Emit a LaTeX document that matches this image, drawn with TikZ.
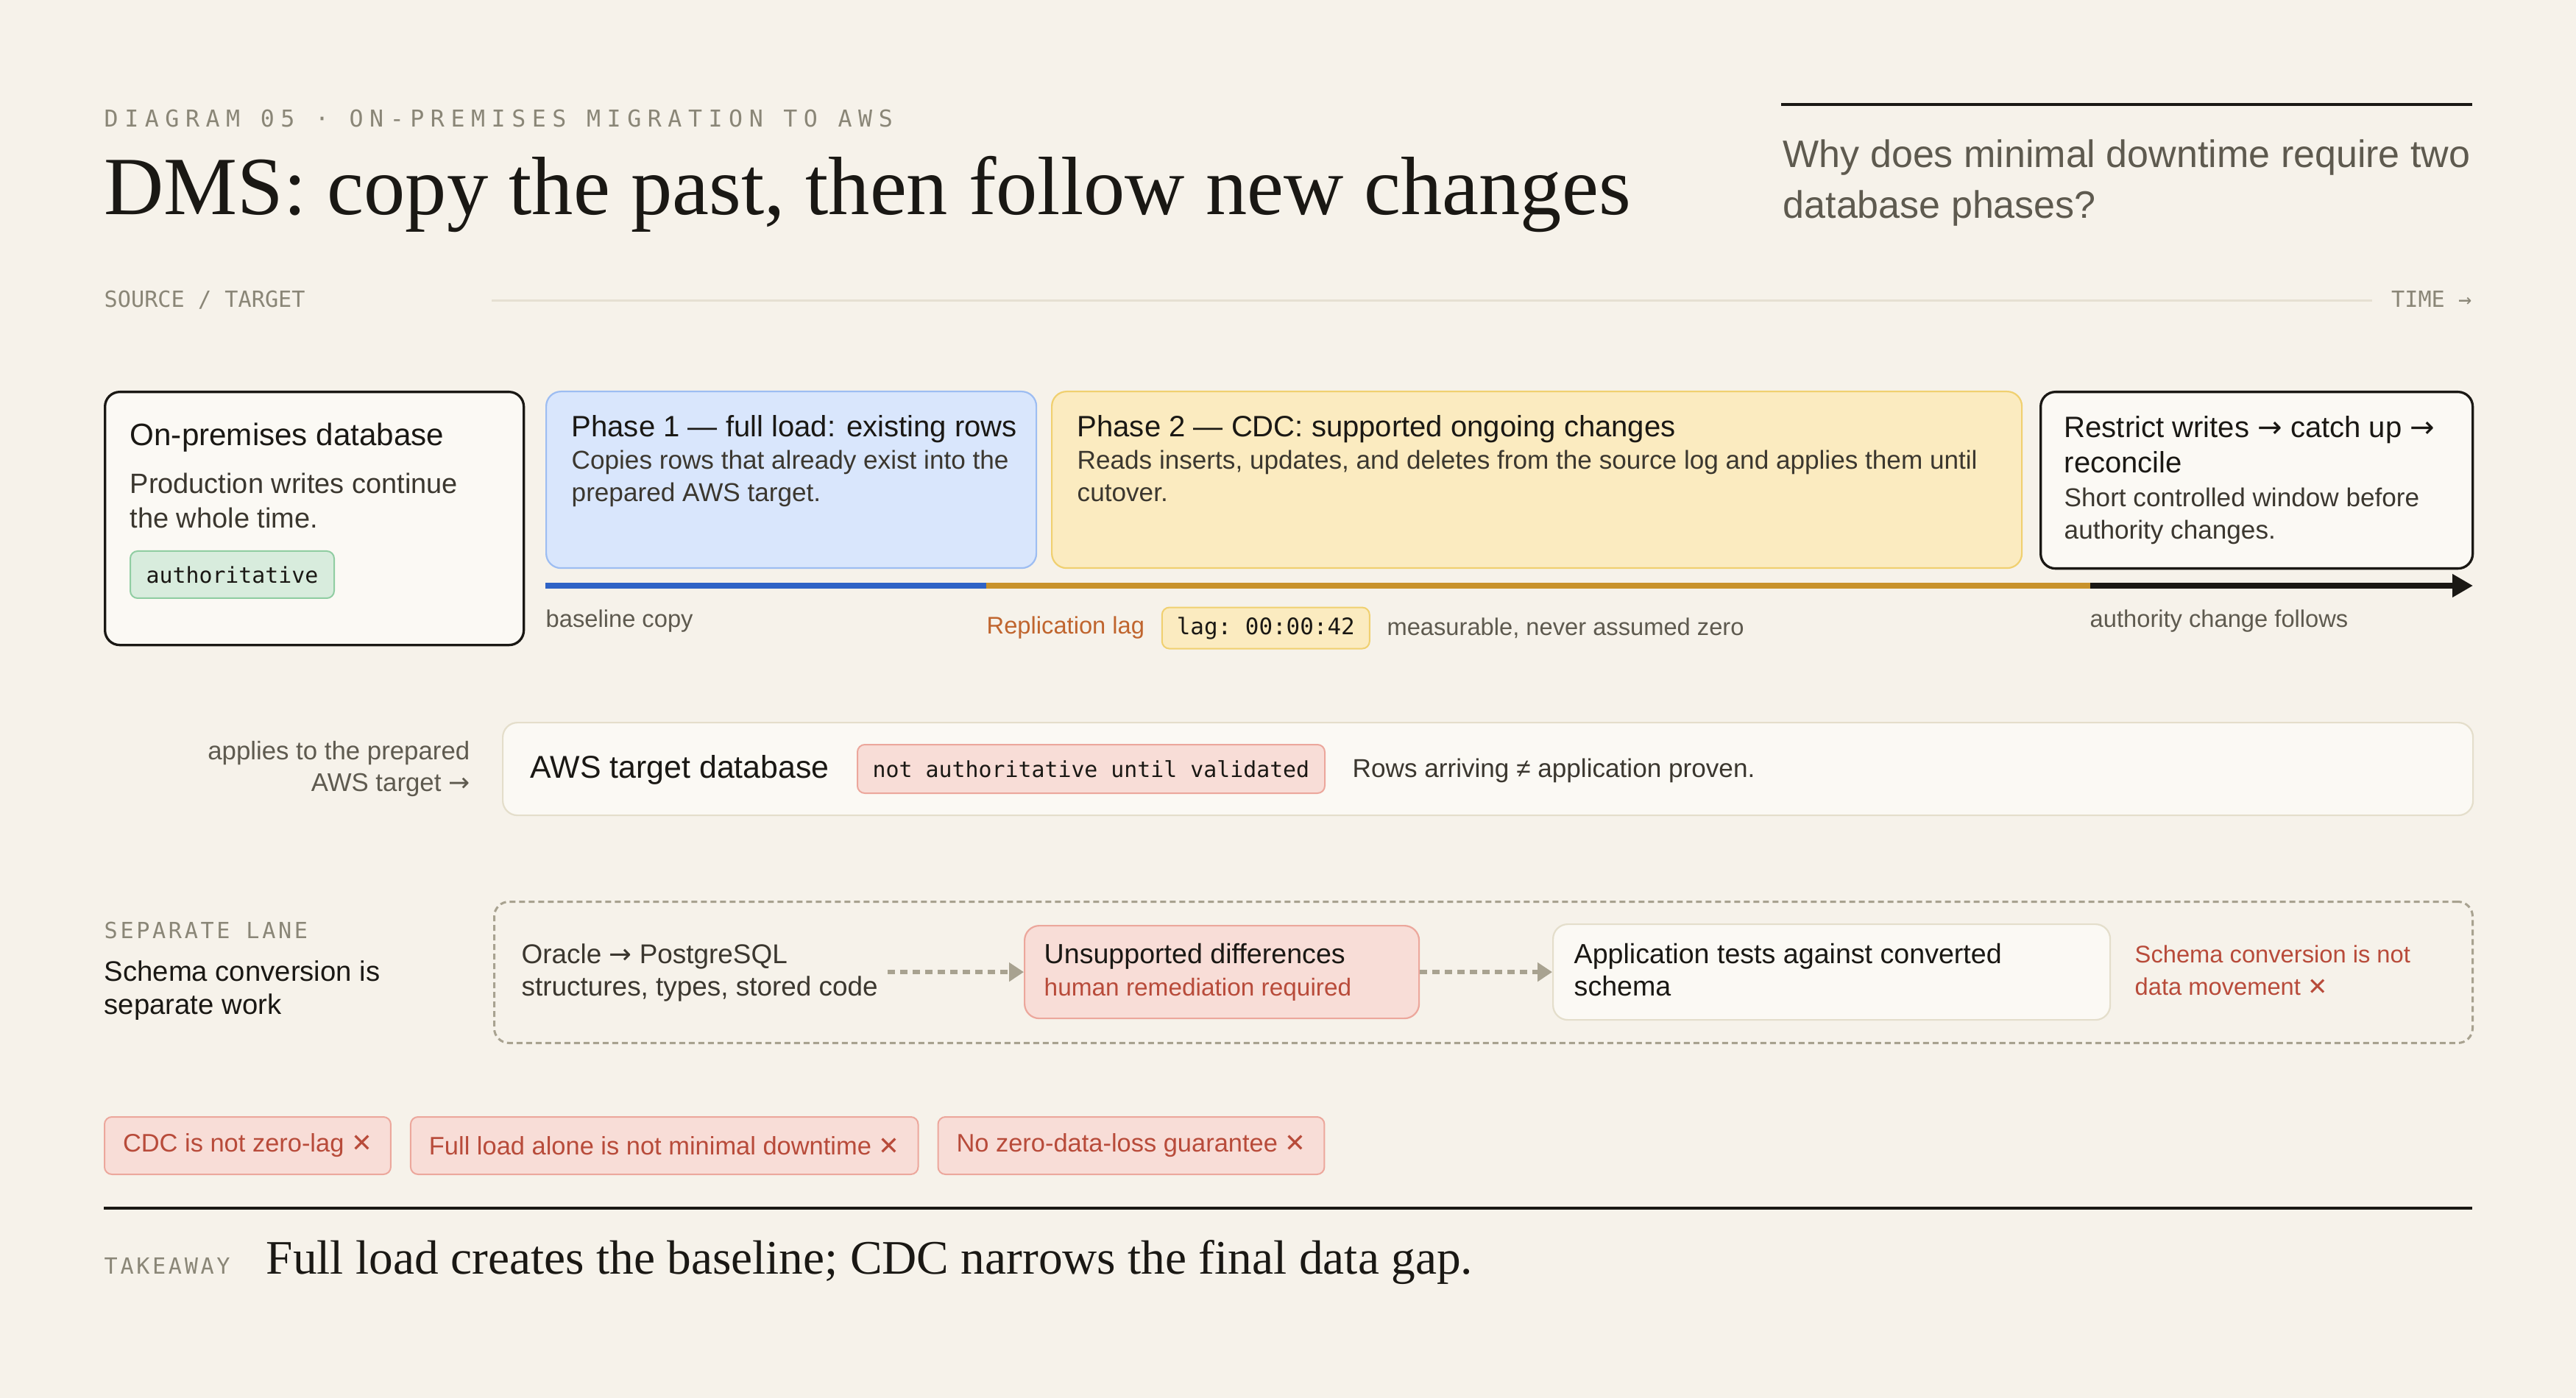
\documentclass[tikz,border=0pt]{standalone}
\usepackage{fontspec}
\setmainfont{Liberation Serif}
\setsansfont{Liberation Sans}
\setmonofont{DejaVu Sans Mono}
\newfontfamily\spacedmono[LetterSpace=12]{DejaVu Sans Mono}
\newfontfamily\widemono[LetterSpace=27]{DejaVu Sans Mono}
\newfontfamily\symfont{DejaVu Sans}
\newcommand{\toarrow}{{\symfont →}}
\newcommand{\nomark}{{\symfont ✕}}
\usetikzlibrary{arrows.meta, positioning, calc}
\definecolor{paperbg}{HTML}{F6F2EA}
\definecolor{paper}{HTML}{FBF9F4}
\definecolor{ink}{HTML}{1A1814}
\definecolor{body}{HTML}{3B372F}
\definecolor{muted}{HTML}{5E5A4F}
\definecolor{monogray}{HTML}{8A8677}
\definecolor{rulelight}{HTML}{E6E0D2}
\definecolor{beige}{HTML}{E4DECB}
\definecolor{bluefill}{HTML}{D9E6FC}
\definecolor{blueline}{HTML}{9DBDF2}
\definecolor{bluebar}{HTML}{2F63C6}
\definecolor{yellowfill}{HTML}{FBEBC0}
\definecolor{yellowline}{HTML}{F0D070}
\definecolor{orangebar}{HTML}{C8922C}
\definecolor{lagorange}{HTML}{C0652E}
\definecolor{greenfill}{HTML}{D8ECDD}
\definecolor{greenline}{HTML}{90CDA2}
\definecolor{redfill}{HTML}{F8DDD7}
\definecolor{redline}{HTML}{ECA79C}
\definecolor{redtext}{HTML}{B84B3A}
\definecolor{lanegray}{HTML}{A8A290}

\begin{document}
\begin{tikzpicture}[
    panel/.style={rectangle, rounded corners=0.2cm, inner sep=0pt, anchor=north west},
    darkpanel/.style={panel, draw=ink, line width=0.033cm, fill=paper},
    softpanel/.style={panel, draw=beige, line width=0.022cm, fill=paper},
    boxtitle/.style={anchor=base west, inner sep=0pt, align=left, text=ink,
                     font=\sffamily\fontsize{12}{13.7}\selectfont},
    phasetitle/.style={boxtitle, font=\sffamily\fontsize{11.4}{13.7}\selectfont},
    boxtext/.style={anchor=base west, inner sep=0pt, align=left, text=body,
                    font=\sffamily\fontsize{10}{12.6}\selectfont},
    lanetext/.style={boxtext, font=\sffamily\fontsize{10.7}{12.4}\selectfont},
    note/.style={anchor=base west, inner sep=0pt, align=left, text=muted,
                 font=\sffamily\fontsize{9.3}{12}\selectfont},
    monolabel/.style={anchor=base west, inner sep=0pt, text=monogray,
                      font=\ttfamily\fontsize{8.6}{10}\selectfont},
    tag/.style={rectangle, rounded corners=0.1cm, line width=0.02cm, inner sep=0pt,
                anchor=north west, text=ink, font=\ttfamily\fontsize{8.5}{10}\selectfont},
    pill/.style={rectangle, rounded corners=0.1cm, draw=redline, fill=redfill, line width=0.02cm,
                 minimum height=0.78cm, inner xsep=0.25cm, text=redtext,
                 font=\sffamily\fontsize{9.8}{12}\selectfont},
    bar/.style={line width=0.075cm},
    flow/.style={draw=lanegray, line width=0.055cm, dash pattern=on 0.1cm off 0.07cm,
                 -{Triangle[length=0.2cm, width=0.25cm]}},
]

% Page
\fill[paperbg] (0,0) rectangle (35,-19);
\useasboundingbox (0,0) rectangle (35,-19);

% Header
\node[monolabel, font=\widemono\fontsize{9}{10}\selectfont] (eyebrow) at (1.41,-1.73)
    {DIAGRAM 05 · ON-PREMISES MIGRATION TO AWS};
\node[anchor=base west, inner sep=0pt, text=ink, font=\rmfamily\fontsize{32}{36}\selectfont] (headline)
    at (1.41,-2.92) {DMS: copy the past, then follow new changes};
\draw[ink, line width=0.04cm] (24.20,-1.42) -- (33.59,-1.42);
\node[anchor=base west, inner sep=0pt, align=left, text=muted, font=\sffamily\fontsize{14.8}{19.9}\selectfont]
    (question) at (24.22,-2.97) {Why does minimal downtime require two\\database phases?};

% Axis
\node[monolabel] (sourcelbl) at (1.41,-4.18) {SOURCE / TARGET};
\node[monolabel, anchor=base east] (timelbl) at (33.59,-4.18) {TIME →};
\draw[rulelight, line width=0.03cm] (6.68,-4.09) -- (32.23,-4.09);

% Source database
\node[darkpanel, minimum width=5.69cm, minimum height=3.44cm] (onprem) at (1.41,-5.31) {};
\node[boxtitle] (onpremtitle) at ($(onprem.north west)+(0.35,-0.75)$) {On-premises database};
\node[boxtext, font=\sffamily\fontsize{10.8}{13.3}\selectfont] (onpremtext)
    at ($(onprem.north west)+(0.35,-1.86)$) {Production writes continue\\the whole time.};
\node[tag, fill=greenfill, draw=greenline, minimum width=2.77cm, minimum height=0.64cm] (authtag)
    at ($(onprem.north west)+(0.35,-2.17)$) {authoritative};

% Phases
\node[panel, fill=bluefill, draw=blueline, line width=0.022cm, minimum width=6.66cm, minimum height=2.40cm]
    (phase1) at (7.41,-5.31) {};
\node[phasetitle] (phase1title) at ($(phase1.north west)+(0.35,-0.63)$) {Phase 1 — full load: existing rows};
\node[boxtext] (phase1text) at ($(phase1.north west)+(0.35,-1.51)$)
    {Copies rows that already exist into the\\prepared AWS target.};

\node[panel, fill=yellowfill, draw=yellowline, line width=0.022cm, minimum width=13.18cm, minimum height=2.40cm]
    (phase2) at (14.28,-5.31) {};
\node[phasetitle] (phase2title) at ($(phase2.north west)+(0.35,-0.63)$) {Phase 2 — CDC: supported ongoing changes};
\node[boxtext] (phase2text) at ($(phase2.north west)+(0.35,-1.51)$)
    {Reads inserts, updates, and deletes from the source log and applies them until\\cutover.};

\node[darkpanel, minimum width=5.87cm, minimum height=2.40cm] (cutover) at (27.71,-5.31) {};
\node[phasetitle] (cutovertitle) at ($(cutover.north west)+(0.33,-1.12)$)
    {Restrict writes \toarrow{} catch up \toarrow\\reconcile};
\node[boxtext] (cutovertext) at ($(cutover.north west)+(0.33,-2.02)$)
    {Short controlled window before\\authority changes.};

% Timeline
\coordinate (tl0) at (7.41,-7.96);
\coordinate (tl1) at (13.40,-7.96);
\coordinate (tl2) at (28.40,-7.96);
\coordinate (tl3) at (33.60,-7.96);
\draw[bar, bluebar] (tl0) -- (tl1);
\draw[bar, orangebar] (tl1) -- (tl2);
\draw[bar, ink, -{Triangle[length=0.28cm, width=0.30cm]}] (tl2) -- (tl3);

\node[note] (baselinelbl) at (7.41,-8.52) {baseline copy};
\node[note, text=lagorange] (laglbl) at (13.40,-8.62) {Replication lag};
\node[tag, fill=yellowfill, draw=yellowline, minimum width=2.82cm, minimum height=0.56cm,
      font=\ttfamily\fontsize{8.8}{10}\selectfont, right=0.22cm of laglbl] (lagtag) {lag: 00:00:42};
\node[note, right=0.22cm of lagtag] (measurelbl) {measurable, never assumed zero};
\node[note] (authlbl) at (28.39,-8.52) {authority change follows};

% Target database
\node[note, font=\sffamily\fontsize{9.9}{12}\selectfont, align=right, anchor=base east] (applieslbl)
    at (6.39,-10.75) {applies to the prepared\\AWS target \toarrow};
\node[softpanel, minimum width=26.77cm, minimum height=1.26cm] (awsbox) at (6.82,-9.81) {};
\node[boxtitle, font=\sffamily\fontsize{12.2}{14}\selectfont] (awstitle) at (7.20,-10.57) {AWS target database};
\node[tag, fill=redfill, draw=redline, minimum width=6.35cm, minimum height=0.66cm] (notauthtag)
    at (11.64,-10.11) {not authoritative until validated};
\node[boxtext] (rowslbl) at (18.37,-10.56) {Rows arriving ≠ application proven.};

% Separate lane
\node[monolabel, font=\spacedmono\fontsize{8.6}{10}\selectfont] (lanelbl) at (1.41,-12.75) {SEPARATE LANE};
\node[boxtitle, font=\sffamily\fontsize{10.9}{12.8}\selectfont] (lanetitle) at (1.41,-13.78)
    {Schema conversion is\\separate work};
\node[panel, draw=lanegray, line width=0.03cm, dash pattern=on 0.08cm off 0.05cm,
      minimum width=26.88cm, minimum height=1.92cm] (lane) at (6.70,-12.24) {};
\node[lanetext, font=\sffamily\fontsize{10.5}{12.4}\selectfont] (oracle) at (7.08,-13.53)
    {Oracle \toarrow{} PostgreSQL\\structures, types, stored code};
\node[panel, fill=redfill, draw=redline, line width=0.022cm, minimum width=5.36cm, minimum height=1.26cm]
    (unsupported) at (13.91,-12.57) {};
\node[lanetext, text=ink] (unsupportedtext) at (14.18,-13.53)
    {Unsupported differences\\\textcolor{redtext}{\fontsize{9.5}{12.4}\selectfont human remediation required}};
\node[softpanel, minimum width=7.57cm, minimum height=1.30cm] (apptests) at (21.09,-12.55) {};
\node[lanetext, text=ink] (apptext) at (21.38,-13.53) {Application tests against converted\\schema};
\node[lanetext, font=\sffamily\fontsize{9.3}{12.4}\selectfont, text=redtext] (notmovement) at (29.00,-13.52)
    {Schema conversion is not\\data movement \nomark};

\draw[flow, shorten <=0.13cm] (oracle.east |- unsupported.west) -- (unsupported.west);
\draw[flow] (unsupported.east) -- (apptests.west |- unsupported.east);

% Misconceptions
\node[pill, anchor=west] (pill1) at (1.41,-15.57) {CDC is not zero-lag \nomark};
\node[pill, right=0.25cm of pill1] (pill2) {Full load alone is not minimal downtime \nomark};
\node[pill, right=0.25cm of pill2] (pill3) {No zero-data-loss guarantee \nomark};

% Takeaway
\draw[ink, line width=0.04cm] (1.41,-16.42) -- (33.59,-16.42);
\node[monolabel, font=\spacedmono\fontsize{8.6}{10}\selectfont] (takeawaylbl) at (1.41,-17.31) {TAKEAWAY};
\node[anchor=base west, inner sep=0pt, text=ink, font=\rmfamily\fontsize{18.6}{22}\selectfont] (takeaway)
    at (3.61,-17.31) {Full load creates the baseline; CDC narrows the final data gap.};

\end{tikzpicture}
\end{document}
